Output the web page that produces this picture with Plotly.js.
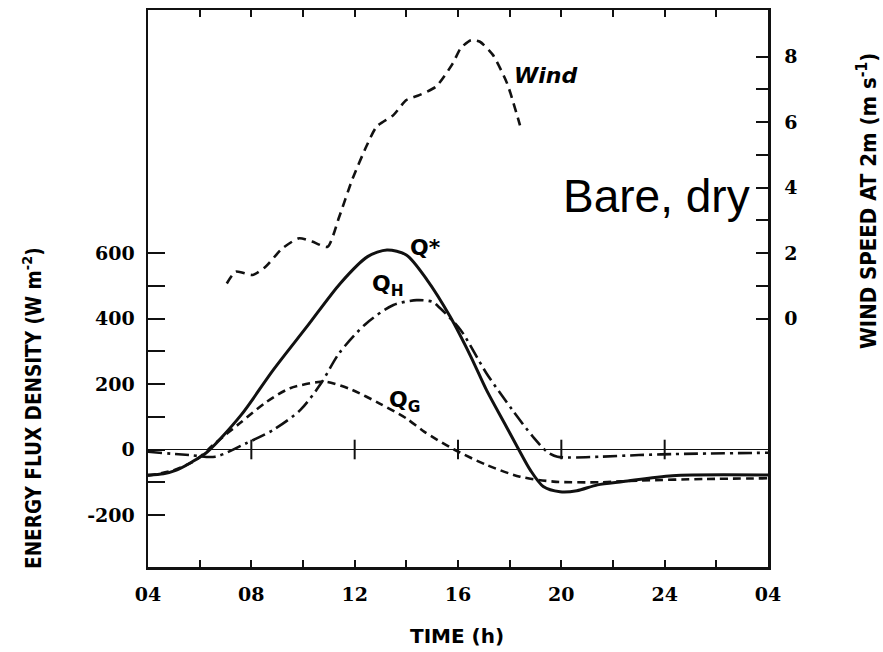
<!DOCTYPE html>
<html>
<head>
<meta charset="utf-8">
<script src="https://cdn.plot.ly/plotly-3.0.1.min.js"></script>
<style>
html,body{margin:0;padding:0;background:#fff;}
#chart{width:883px;height:652px;}
#chart g.annotation[data-index="0"] text, #chart g.annotation[data-index="1"] text {font-stretch: condensed;}
</style>
</head>
<body>
<div id="chart"></div>
<script>
// Net radiation Q*
const hoursQstar = [4.0, 4.6, 5.1, 5.7, 6.3, 7.6, 8.85, 10.15, 11.45, 12.5, 13.25, 14.0, 14.8, 15.7, 16.5, 17.1, 17.8, 18.35, 18.8, 19.3, 19.95, 20.6, 21.4, 22.4, 24.3, 28.0];
const qStar = [-78, -74, -63, -38, -7, 105, 243, 375, 508, 589, 609, 594, 518, 405, 283, 182, 80, 0, -63, -113, -129, -126, -108, -98, -80, -78];
// Sensible heat flux Q_H
const hoursQH = [4.0, 5.6, 6.6, 7.8, 8.85, 9.9, 10.7, 11.4, 12.45, 13.5, 14.4, 15.0, 15.3, 16.1, 17.1, 18.1, 18.9, 19.45, 19.85, 21.5, 23.0, 24.3, 28.0];
const qH = [-7, -17, -22, 19, 60, 121, 202, 294, 385, 441, 456, 451, 432, 365, 233, 121, 39, -7, -22, -22, -17, -14, -10];
// Ground heat flux Q_G
const hoursQG = [4.0, 5.0, 5.85, 6.6, 7.55, 8.6, 9.5, 10.5, 10.9, 11.9, 12.95, 14.0, 14.7, 15.85, 17.1, 18.4, 19.7, 21.5, 23.0, 25.6, 28.0];
const qG = [-80, -63, -32, 19, 80, 146, 187, 205, 207, 182, 141, 95, 54, 0, -47, -83, -98, -100, -95, -90, -88];
// Wind speed at 2 m (right axis)
const hoursWind = [7.05, 7.4, 8.05, 8.55, 9.2, 9.85, 10.35, 10.95, 11.4, 11.9, 12.45, 12.85, 13.5, 14.0, 14.5, 15.15, 15.8, 16.1, 16.5, 16.85, 17.35, 17.9, 18.4];
const windSpeed = [1.07, 1.43, 1.33, 1.58, 2.14, 2.45, 2.35, 2.19, 3.1, 4.23, 5.25, 5.86, 6.21, 6.67, 6.82, 7.08, 7.79, 8.25, 8.5, 8.45, 8.05, 7.18, 5.9];
// Axis ticks
const xTickVals = [4, 6, 8, 10, 12, 14, 16, 18, 20, 22, 24, 26, 28];
const xTickText = ['04', '', '08', '', '12', '', '16', '', '20', '', '24', '', '04'];
const yTickVals = [-200, -100, 0, 100, 200, 300, 400, 500, 600];
const yTickText = ['-200', '', '0', '', '200', '', '400', '', '600'];
const y2TickVals = [0, 1, 2, 3, 4, 5, 6, 7, 8];
const y2TickText = ['0', '', '2', '', '4', '', '6', '', '8'];
const zeroLineTicks = [8, 12, 16, 20, 24];

const tickFont = {family: 'DejaVu Serif', size: 19, color: '#000', weight: 'bold'};
const black = '#111';
const titleFamily = '"DejaVu Sans Condensed", "Liberation Sans Narrow", "DejaVu Sans", sans-serif';

const traces = [
  {x: hoursQG, y: qG, mode: 'lines', line: {color: black, width: 2.6, dash: '8px,5px', shape: 'spline', smoothing: 0.8}, hoverinfo: 'skip'},
  {x: hoursQH, y: qH, mode: 'lines', line: {color: black, width: 2.6, dash: '14px,5px,3px,5px', shape: 'spline', smoothing: 0.8}, hoverinfo: 'skip'},
  {x: hoursQstar, y: qStar, mode: 'lines', line: {color: black, width: 3, shape: 'spline', smoothing: 0.8}, hoverinfo: 'skip'},
  {x: hoursWind, y: windSpeed, yaxis: 'y2', mode: 'lines', line: {color: black, width: 2.6, dash: '9px,6px', shape: 'spline', smoothing: 0.6}, hoverinfo: 'skip'},
  {x: zeroLineTicks, y: zeroLineTicks.map(() => 0), mode: 'markers', marker: {symbol: 'line-ns', size: 14, line: {color: black, width: 2}}, hoverinfo: 'skip'}
];

const layout = {
  width: 883, height: 652,
  margin: {l: 148, r: 115, t: 10, b: 85},
  paper_bgcolor: '#fff', plot_bgcolor: '#fff',
  showlegend: false,
  xaxis: {
    range: [4, 28], tickvals: xTickVals, ticktext: xTickText,
    ticks: 'inside', ticklen: 7, tickwidth: 2, tickcolor: black,
    showline: true, linecolor: black, linewidth: 2.5, mirror: 'ticks',
    showgrid: false, zeroline: false, tickfont: tickFont, ticklabelstandoff: 9
  },
  yaxis: {
    range: [-358.8, 1342], tickvals: yTickVals, ticktext: yTickText,
    ticks: 'inside', ticklen: 17, tickwidth: 2, tickcolor: black,
    showline: true, linecolor: black, linewidth: 2.5,
    showgrid: false, zeroline: true, zerolinecolor: black, zerolinewidth: 1.6,
    tickfont: tickFont, ticklabelstandoff: 7
  },
  yaxis2: {
    overlaying: 'y', side: 'right',
    range: [-7.588, 9.42], tickvals: y2TickVals, ticktext: y2TickText,
    ticks: 'inside', ticklen: 12, tickwidth: 2, tickcolor: black,
    showline: true, linecolor: black, linewidth: 2.5,
    showgrid: false, zeroline: false, tickfont: tickFont, ticklabelstandoff: 10
  },
  annotations: [
    {xref: 'paper', yref: 'paper', x: -0.1855, y: 0.2855, xanchor: 'center', yanchor: 'middle',
     text: 'ENERGY FLUX DENSITY (W m<sup>-2</sup>)', textangle: -90, showarrow: false,
     font: {family: titleFamily, size: 20.5, color: '#000', weight: 'bold'}},
    {xref: 'paper', yref: 'paper', x: 1.1597, y: 0.657, xanchor: 'center', yanchor: 'middle',
     text: 'WIND SPEED AT 2m (m s<sup>-1</sup>)', textangle: -90, showarrow: false,
     font: {family: titleFamily, size: 22, color: '#000', weight: 'bold'}},
    {xref: 'paper', yref: 'paper', x: 0.498, y: -0.1239, xanchor: 'center', yanchor: 'middle',
     text: 'TIME (h)', showarrow: false,
     font: {family: 'DejaVu Sans', size: 20, color: '#000', weight: 'bold'}},
    {xref: 'x', yref: 'y', x: 14.76, y: 618, text: 'Q*', showarrow: false,
     font: {family: 'DejaVu Sans', size: 22, color: '#000', weight: 'bold'}},
    {xref: 'x', yref: 'y', x: 13.29, y: 500, text: 'Q<sub>H</sub>', showarrow: false,
     font: {family: 'DejaVu Sans', size: 22, color: '#000', weight: 'bold'}},
    {xref: 'x', yref: 'y', x: 13.91, y: 146, text: 'Q<sub>G</sub>', showarrow: false,
     font: {family: 'DejaVu Sans', size: 22, color: '#000', weight: 'bold'}},
    {xref: 'x', yref: 'y', x: 19.4, y: 1143, text: '<i>Wind</i>', showarrow: false,
     font: {family: 'DejaVu Sans', size: 22, color: '#000', weight: 'bold'}},
    {xref: 'x', yref: 'y', x: 23.69, y: 774, text: 'Bare, dry', showarrow: false,
     font: {family: 'Liberation Sans', size: 46, color: '#000'}}
  ]
};

Plotly.newPlot('chart', traces, layout, {staticPlot: true, displayModeBar: false});
</script>
</body>
</html>
